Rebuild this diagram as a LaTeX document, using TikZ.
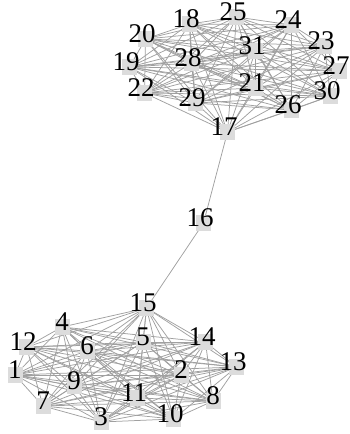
\documentclass[tikz,border=0pt]{standalone}
\usepackage{fontspec}
\setmainfont{Liberation Serif}
\definecolor{edgegray}{HTML}{A0A0A0}
\definecolor{boxgray}{HTML}{DCDCDC}
\pgfdeclarelayer{bg}
\pgfsetlayers{bg,main}
\begin{document}
\begin{tikzpicture}[x=1pt,y=-1pt,
  box/.style={fill=boxgray, minimum width=15pt, minimum height=16pt, inner sep=0pt},
  lab/.style={font=\fontsize{27}{27}\selectfont, inner sep=0pt, text height=0.66em, text depth=0pt},
  edge/.style={draw=edgegray, line width=0.75pt}]
\useasboundingbox (0,0) rectangle (350,434);
\foreach \n/\x/\y in {
  18/186/24, 25/233/17, 24/288/25, 20/142/39, 23/321/46, 31/252/51,
  19/126/67, 28/188/63, 27/336/71, 21/252/88, 22/141/93, 30/327/96,
  29/192/103, 26/288/110, 17/224/132, 16/200/223,
  15/143/308, 4/62/327, 12/23/347, 5/143/342, 14/202/342, 6/87/351,
  1/15/375, 13/233/367, 2/181/375, 9/74/386, 11/134/398, 7/43/406,
  8/213/401, 3/101/422, 10/170/419}{
  \pgfmathsetmacro\dx{\n>9?3.5:0}
  \node[box, label={[lab, xshift=-\dx pt]center:\n}] (v\n) at (\x+\dx,\y) {};
}
\begin{pgfonlayer}{bg}
\foreach \i in {1,...,14}{
  \pgfmathtruncatemacro\s{\i+1}
  \foreach \j in {\s,...,15} \draw[edge] (v\i.center) -- (v\j.center);
}
\foreach \i in {17,...,30}{
  \pgfmathtruncatemacro\s{\i+1}
  \foreach \j in {\s,...,31} \draw[edge] (v\i.center) -- (v\j.center);
}
\draw[edge] (v15.center) -- (v16.center) -- (v17.center);
\end{pgfonlayer}
\end{tikzpicture}
\end{document}
